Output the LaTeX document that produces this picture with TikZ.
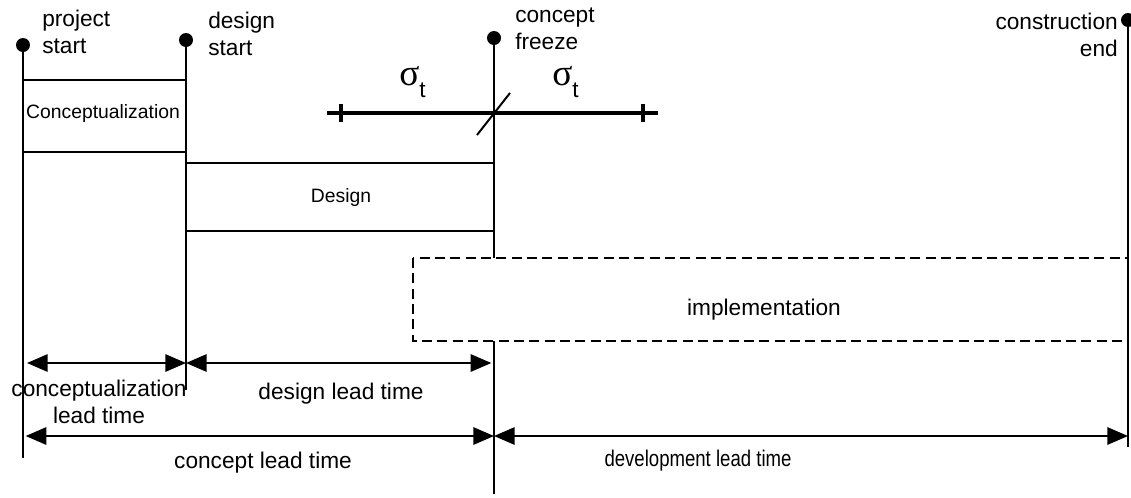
\documentclass[tikz,border=0pt]{standalone}
\usepackage{fontspec}
\setmainfont{Liberation Sans}
\newfontfamily\symfont{Liberation Serif}
\usetikzlibrary{arrows.meta}
\begin{document}
\begin{tikzpicture}[x=0.75pt,y=-0.75pt,
  lbl/.style={font=\fontsize{17}{20.25}\selectfont, inner sep=0pt},
  boxlbl/.style={font=\fontsize{14.5}{17}\selectfont, inner sep=0pt},
  sig/.style={font=\symfont\fontsize{28}{30}\selectfont, inner sep=0pt, anchor=base west},
  vline/.style={line width=1.5pt},
  hline/.style={line width=1.5pt},
  thick line/.style={line width=2.4pt},
  dot/.style={circle, fill=black, inner sep=0pt, minimum size=10.5pt},
  dim/.style={line width=1.5pt, {Triangle[length=15.5pt,width=13pt]}-{Triangle[length=15.5pt,width=13pt]}},
  dashbox/.style={line width=1.5pt, dash pattern=on 7.5pt off 4pt},
]
\fill[white] (0,0) rectangle (1131,497);
\useasboundingbox (0,0) rectangle (1131,497);

% milestone dots
\node[dot] (ps) at (23,45) {};
\node[dot] (ds) at (186,40) {};
\node[dot] (cf) at (494,38) {};
\node[dot] (ce) at (1128,20) {};

% line end points
\coordinate (psb) at (23,458);
\coordinate (dsb) at (186,390);
\coordinate (cfa) at (494,258);
\coordinate (cfb) at (494,341);
\coordinate (cfc) at (494,494);
\coordinate (ceb) at (1128,447);

% vertical lines
\draw[vline] (ps.center) -- (psb);
\draw[vline] (ds.center) -- (dsb);
\draw[vline] (cf.center) -- (cfa);
\draw[vline] (cfb) -- (cfc);
\draw[vline] (ce.center) -- (ceb);

% milestone labels
\node[lbl, anchor=north west, align=left] (psl) at (42,10) {project\\start};
\node[lbl, anchor=north west, align=left] (dsl) at (208,12) {design\\start};
\node[lbl, anchor=north west, align=left] (cfl) at (515,8) {concept\\freeze};
\node[lbl, anchor=north east, align=right] (cel) at (1118,13) {construction\\end};

% conceptualization box
\coordinate (c1) at (23,80);
\coordinate (c2) at (186,152);
\draw[hline] (c1) -- (c1 -| c2);
\draw[hline] (c1 |- c2) -- (c2);
\node[boxlbl] (cbox) at (103,113) {Conceptualization};

% design box
\coordinate (d1) at (186,163);
\coordinate (d2) at (494,231);
\draw[hline] (d1) -- (d1 -| d2);
\draw[hline] (d1 |- d2) -- (d2);
\node[boxlbl] (dbox) at (341,197) {Design};

% implementation box
\coordinate (i1) at (413,258);
\coordinate (i2) at (1128,341);
\draw[dashbox] (i1) rectangle (i2);
\node[lbl] (ibox) at (764,310) {implementation};

% sigma range
\coordinate (sl) at (327,113);
\coordinate (sr) at (658,113);
\coordinate (tl) at (341,113);
\coordinate (tr) at (643,113);
\draw[thick line] (sl) -- (sr);
\draw[thick line] ([yshift=7pt]tl) -- ([yshift=-7pt]tl);
\draw[thick line] ([yshift=7pt]tr) -- ([yshift=-7pt]tr);
\coordinate (sa) at (477,135);
\coordinate (sb) at (510,93);
\draw[vline] (sa) -- (sb);
\node[sig] (sg1) at (399,85) {σ\raisebox{-9pt}{\fontspec{Liberation Sans}\fontsize{17}{20}\selectfont t}};
\node[sig] (sg2) at (552,85) {σ\raisebox{-9pt}{\fontspec{Liberation Sans}\fontsize{17}{20}\selectfont t}};

% dimension arrows
\coordinate (r1) at (0,363);
\coordinate (r2) at (0,436);
\draw[dim] ([xshift=3pt]ps |- r1) -- (ds |- r1);
\draw[dim] (ds |- r1) -- ([xshift=-2pt]cf |- r1);
\draw[dim] ([xshift=2pt]ps |- r2) -- (cf |- r2);
\draw[dim] (cf |- r2) -- (ce |- r2);

% dimension labels
\node[lbl, anchor=north, align=center] (cll) at (99,380) {conceptualization\\lead time};
\node[lbl, anchor=north] (dll) at (341,383) {design lead time};
\node[lbl, anchor=north] (cpl) at (263,452) {concept lead time};
\node[lbl, anchor=north] (dvl) at (698,450) {\scalebox{0.82}[1]{development lead time}};
\end{tikzpicture}
\end{document}
